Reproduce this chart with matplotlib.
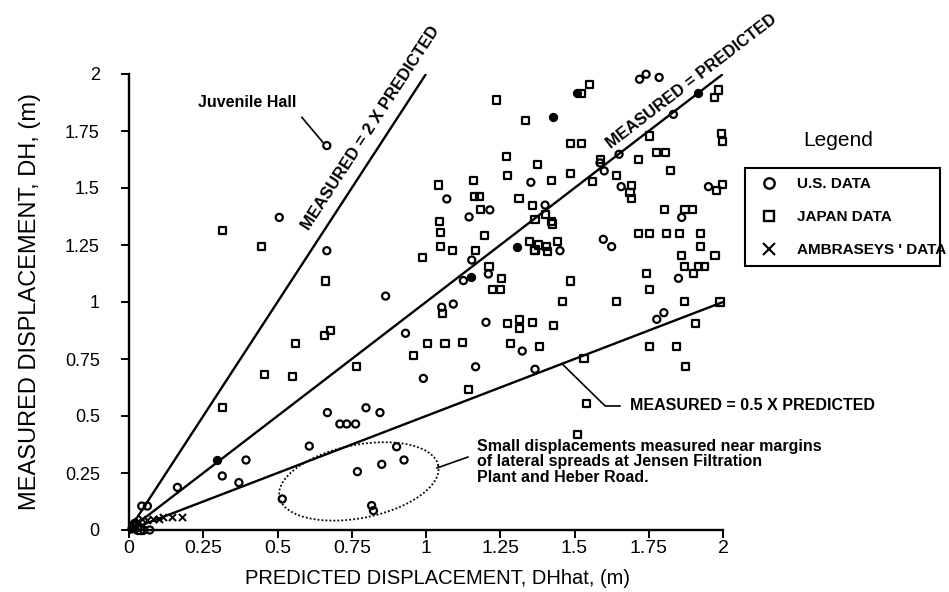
import numpy as np
import matplotlib
matplotlib.use('Agg')
import matplotlib.pyplot as plt
from matplotlib.lines import Line2D

plt.rcParams['font.family'] = ['Liberation Sans', 'DejaVu Sans']

# U.S. data (open circles)
us_x = [0.666, 0.506, 0.666, 0.864, 1.070, 1.145, 1.215, 1.154, 1.126, 1.210,
        1.353, 1.401, 1.451, 1.597, 1.625, 1.719, 1.741, 1.785, 1.833, 1.650,
        1.586, 1.600, 1.657, 1.861, 1.951, 1.850, 1.202, 1.324, 1.777, 1.801,
        1.367, 1.053, 1.092, 0.931, 1.167, 0.991, 0.668, 0.798, 0.845, 0.710,
        0.733, 0.763, 0.607, 0.901, 0.394, 0.314, 0.370, 0.163, 0.926, 0.851,
        0.769, 0.516, 0.817, 0.823, 0.043, 0.062, 0.010, 0.030, 0.050, 0.070,
        0.020]
us_y = [1.686, 1.371, 1.225, 1.026, 1.452, 1.373, 1.404, 1.184, 1.094, 1.123,
        1.525, 1.425, 1.225, 1.275, 1.243, 1.977, 1.999, 1.985, 1.823, 1.648,
        1.610, 1.575, 1.506, 1.371, 1.506, 1.104, 0.911, 0.785, 0.924, 0.953,
        0.705, 0.977, 0.991, 0.863, 0.716, 0.665, 0.515, 0.536, 0.515, 0.465,
        0.465, 0.465, 0.368, 0.365, 0.307, 0.237, 0.208, 0.187, 0.307, 0.288,
        0.256, 0.136, 0.107, 0.085, 0.105, 0.105, 0.005, 0.010, 0.000, 0.000,
        0.030]
# overlapping U.S. points that print as solid dots
us_solid_x = [1.150, 1.308, 1.429, 1.507, 0.297, 1.917]
us_solid_y = [1.111, 1.240, 1.813, 1.915, 0.307, 1.915]

# Japan data (open squares)
jp_x = [1.236, 1.336, 0.315, 0.447, 0.663, 1.041, 1.044, 1.050, 1.050, 1.089,
        0.988, 1.159, 1.162, 1.180, 1.182, 1.196, 1.167, 1.212, 1.255, 1.224,
        1.251, 1.272, 1.275, 1.375, 1.358, 1.313, 1.367, 1.348, 1.367, 1.524,
        1.552, 1.984, 1.971, 1.751, 1.486, 1.524, 1.996, 1.998, 1.777, 1.805,
        1.717, 1.586, 1.562, 1.642, 1.692, 1.687, 1.692, 1.824, 1.485, 1.423,
        1.401, 1.423, 1.426, 1.378, 1.365, 1.406, 1.409, 1.442, 1.803, 1.872,
        1.898, 1.978, 1.998, 1.715, 1.752, 1.810, 1.853, 1.923, 1.925, 1.973,
        1.859, 1.870, 1.917, 1.939, 1.900, 1.743, 1.752, 1.488, 1.460, 1.640,
        1.870, 1.990, 1.275, 1.314, 1.314, 1.358, 1.429, 1.285, 1.382, 1.906,
        1.752, 1.842, 1.875, 1.532, 1.539, 1.509, 1.056, 1.005, 1.064, 1.122,
        0.957, 1.143, 0.657, 0.677, 0.562, 0.767, 0.455, 0.550, 0.315, 0.020,
        0.040]
jp_y = [1.886, 1.798, 1.313, 1.243, 1.092, 1.513, 1.352, 1.304, 1.243, 1.225,
        1.194, 1.534, 1.462, 1.462, 1.404, 1.293, 1.225, 1.155, 1.104, 1.053,
        1.053, 1.637, 1.554, 1.605, 1.425, 1.452, 1.363, 1.265, 1.228, 1.915,
        1.955, 1.930, 1.896, 1.728, 1.696, 1.696, 1.740, 1.703, 1.657, 1.657,
        1.623, 1.623, 1.528, 1.554, 1.509, 1.480, 1.452, 1.575, 1.565, 1.534,
        1.382, 1.352, 1.342, 1.250, 1.225, 1.243, 1.221, 1.265, 1.404, 1.404,
        1.404, 1.491, 1.516, 1.301, 1.301, 1.301, 1.301, 1.301, 1.243, 1.202,
        1.202, 1.155, 1.155, 1.155, 1.123, 1.123, 1.053, 1.092, 1.001, 1.001,
        1.001, 1.000, 0.906, 0.925, 0.884, 0.911, 0.895, 0.819, 0.804, 0.904,
        0.804, 0.804, 0.716, 0.753, 0.556, 0.420, 0.950, 0.816, 0.816, 0.823,
        0.765, 0.617, 0.855, 0.874, 0.816, 0.716, 0.684, 0.675, 0.536, 0.020,
        0.000]

# Ambraseys' data (crosses), mostly piled up near the origin
amb_x = [0.144, 0.177, 0.020, 0.030, 0.045, 0.060, 0.080, 0.100, 0.115, 0.010]
amb_y = [0.056, 0.056, 0.015, 0.040, 0.050, 0.045, 0.050, 0.050, 0.055, 0.000]

# reference lines: measured = ratio x predicted
RATIOS = [2.0, 1.0, 0.5]
X_END  = [1.0, 2.0, 2.0]

TICKS  = [0, 0.25, 0.5, 0.75, 1, 1.25, 1.5, 1.75, 2]
TICK_LABELS = ['0', '0.25', '0.5', '0.75', '1', '1.25', '1.5', '1.75', '2']

W, H = 949, 592
fig = plt.figure(figsize=(W / 100, H / 100), dpi=100)
ax = fig.add_axes([129 / W, 1 - 530 / H, 594 / W, 456 / H])
ax.set_xlim(0, 2)
ax.set_ylim(0, 2)

for r, xe in zip(RATIOS, X_END):
    ax.plot([0, xe], [0, r * xe], color='black', lw=1.7, solid_capstyle='butt')

mk = dict(s=26, linewidths=1.6, clip_on=False, zorder=3)
ax.scatter(us_x, us_y, marker='o', facecolors='none', edgecolors='black', **mk)
ax.scatter(us_solid_x, us_solid_y, marker='o', facecolors='black',
           edgecolors='black', **mk)
ax.scatter(jp_x, jp_y, marker='s', facecolors='none', edgecolors='black', **mk)
ax.scatter(amb_x, amb_y, marker='x', color='black', s=26, linewidths=1.4,
           clip_on=False, zorder=3)

# axes styling
for side in ['top', 'right']:
    ax.spines[side].set_visible(False)
for side in ['left', 'bottom']:
    ax.spines[side].set_linewidth(1.7)
ax.set_xticks(TICKS)
ax.set_xticklabels(TICK_LABELS)
ax.set_yticks(TICKS)
ax.set_yticklabels(TICK_LABELS)
ax.tick_params(axis='x', direction='out', length=6, width=1.4, pad=1, labelsize=14)
ax.tick_params(axis='y', direction='out', length=6, width=1.4, pad=15, labelsize=13)
ax.set_xlabel('PREDICTED DISPLACEMENT, DHhat, (m)', fontsize=14.5)
ax.set_ylabel('MEASURED DISPLACEMENT, DH, (m)', fontsize=17)
ax.xaxis.set_label_coords(0.52, -0.085)
ax.yaxis.set_label_coords(-0.148, 0.5)

# rotated labels along the lines
def line_angle(slope, x):
    return ax.transData.transform_angles(np.array([np.degrees(np.arctan(slope))]),
                                         np.array([[x, slope * x]]))[0]

ann = dict(fontsize=11.5, fontweight='bold', color='black')
ax.text(0.815, 1.763, 'MEASURED = 2 X PREDICTED', rotation=line_angle(2, 0.8),
        rotation_mode='anchor', ha='center', va='center', clip_on=False,
        fontsize=12, fontweight='bold')
ax.text(1.894, 1.967, 'MEASURED = PREDICTED', rotation=line_angle(1, 1.8),
        rotation_mode='anchor', ha='center', va='center', clip_on=False,
        fontsize=12, fontweight='bold')

# 0.5x label with leader
ax.plot([1.458, 1.603, 1.653], [0.729, 0.544, 0.544], color='black', lw=1.2)
ax.text(1.687, 0.544, 'MEASURED = 0.5 X PREDICTED', ha='left', va='center', **ann)

# Juvenile Hall
ax.plot([0.582, 0.653], [1.81, 1.70], color='black', lw=1.2)
ax.text(0.232, 1.873, 'Juvenile Hall', ha='left', va='center', **ann)

# dotted ellipse around small displacements (drawn in pixel space)
p0 = ax.transData.transform((0, 0))
sx, sy = ax.transData.transform((1, 1)) - p0
t = np.linspace(0, 2 * np.pi, 300)
a, b, th = 81, 36.6, np.radians(11.2)
ex = 0.774 + (a * np.cos(t) * np.cos(th) - b * np.sin(t) * np.sin(th)) / sx
ey = 0.213 + (a * np.cos(t) * np.sin(th) + b * np.sin(t) * np.cos(th)) / sy
ax.plot(ex, ey, color='black', lw=1.3, ls=(0, (1, 1.2)))
ax.plot([1.037, 1.141], [0.272, 0.320], color='black', lw=1.2)
ax.text(1.172, 0.40, 'Small displacements measured near margins\n'
        'of lateral spreads at Jensen Filtration\nPlant and Heber Road.',
        ha='left', va='top', linespacing=1.05, **ann)

# legend
handles = [
    Line2D([], [], ls='none', marker='o', mfc='none', mec='black', ms=7.5, mew=1.7),
    Line2D([], [], ls='none', marker='s', mfc='none', mec='black', ms=7.5, mew=1.7),
    Line2D([], [], ls='none', marker='x', color='black', ms=8.5, mew=1.5),
]
leg = fig.legend(handles, ['U.S. DATA', 'JAPAN DATA', "AMBRASEYS ' DATA"],
                 bbox_to_anchor=(737 / W, 1 - 277 / H, 211 / W, 120 / H),
                 loc='center', mode='expand', fancybox=False, framealpha=1,
                 edgecolor='black', labelspacing=1.25, handletextpad=0.8,
                 borderpad=0.6, prop={'size': 11, 'weight': 'bold'})
leg.get_frame().set_linewidth(1.5)
fig.text(838 / W, 1 - 140 / H, 'Legend', ha='center', va='center', fontsize=15)

fig.savefig('out.png', dpi=100)
